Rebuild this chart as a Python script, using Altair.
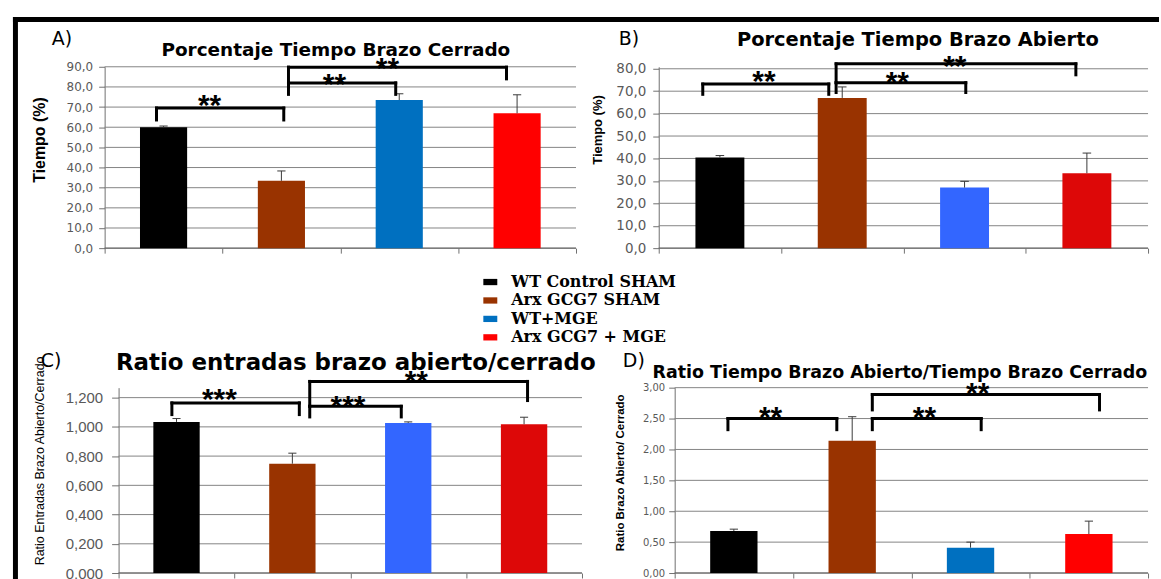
import altair as alt
import numpy as np
import pandas as pd

# ---------------- data ----------------
groups = ["WT Control SHAM", "Arx GCG7 SHAM", "WT+MGE", "Arx GCG7 + MGE"]

a_mean = [60.0, 33.4, 73.5, 66.9]
a_sem = [0.6, 4.9, 3.1, 9.2]
b_mean = [40.4, 67.0, 27.0, 33.4]
b_sem = [0.9, 4.9, 2.8, 9.0]
c_mean = [1.034, 0.748, 1.027, 1.018]
c_sem = [0.023, 0.072, 0.007, 0.048]
d_mean = [0.68, 2.14, 0.41, 0.63]
d_sem = [0.03, 0.39, 0.09, 0.21]

a_ticks = [0, 10, 20, 30, 40, 50, 60, 70, 80, 90]
b_ticks = [0, 10, 20, 30, 40, 50, 60, 70, 80]
c_ticks = [0, 0.2, 0.4, 0.6, 0.8, 1.0, 1.2]
d_ticks = [0, 0.5, 1.0, 1.5, 2.0, 2.5, 3.0]

titles = ["Porcentaje Tiempo Brazo Cerrado",
          "Porcentaje Tiempo Brazo Abierto",
          "Ratio entradas brazo abierto/cerrado",
          "Ratio Tiempo Brazo Abierto/Tiempo Brazo Cerrado"]
letters = ["A)", "B)", "C)", "D)"]
y_titles = ["Tiempo (%)", "Tiempo (%)",
            "Ratio Entradas Brazo Abierto/Cerrado",
            "Ratio Brazo Abierto/ Cerrado"]

# significance brackets (x in group slots, y in data units)
a_br_from = [0.44, 1.56, 1.56]
a_br_to = [1.52, 2.47, 3.41]
a_br_level = [69.5, 82.0, 89.8]
a_br_left = [63.6, 76.3, 80.0]
a_br_right = [63.6, 76.3, 84.0]
a_stars = ["**", "**", "**"]
a_star_x = [0.89, 1.95, 2.40]
a_star_y = [73.3, 84.0, 92.0]

b_br_from = [0.36, 1.45, 1.45]
b_br_to = [1.39, 2.51, 3.41]
b_br_level = [73.2, 73.8, 82.2]
b_br_left = [68.6, 69.4, 73.8]
b_br_right = [68.6, 69.4, 77.3]
b_stars = ["**", "**", "**"]
b_star_x = [0.86, 1.95, 2.42]
b_star_y = [76.8, 76.3, 83.6]

c_br_from = [0.46, 1.65, 1.65]
c_br_to = [1.56, 2.44, 3.53]
c_br_level = [1.164, 1.141, 1.311]
c_br_left = [1.084, 1.068, 1.141]
c_br_right = [1.084, 1.068, 1.180]
c_stars = ["***", "***", "**"]
c_star_x = [0.87, 1.98, 2.57]
c_star_y = [1.227, 1.180, 1.345]

d_br_from = [0.45, 1.67, 1.67]
d_br_to = [1.37, 2.59, 3.59]
d_br_level = [2.50, 2.50, 2.89]
d_br_left = [2.32, 2.32, 2.64]
d_br_right = [2.32, 2.32, 2.64]
d_stars = ["**", "**", "**"]
d_star_x = [0.81, 2.11, 2.56]
d_star_y = [2.61, 2.60, 2.99]

colors_ad = ["#000000", "#993300", "#0070C0", "#FF0000"]
colors_bc = ["#000000", "#993300", "#3366FF", "#DD0808"]

AXIS_GRAY = "#707070"
LABEL_GRAY = "#595959"


def panel(mean, sem, colors, ticks, dec, x_lo, y_hi, w, h, ax_off,
          lab_font, lab_size, lab_pad, tick_size,
          ytitle, yt_font, yt_size, yt_weight, yt_x, yt_y,
          title, t_font, t_size, t_weight, t_x, t_y,
          letter, le_x, le_y,
          br, legend=None, decor=None):
    df = pd.DataFrame({"group": groups, "mean": mean, "sem": sem})
    df["pos"] = np.arange(len(groups)) + 0.5
    df["left"] = df["pos"] - 0.2
    df["right"] = df["pos"] + 0.2
    df["top"] = df["mean"] + df["sem"]
    df["cl"] = df["pos"] - 0.035
    df["cr"] = df["pos"] + 0.035
    df["zero"] = 0.0

    gdf = pd.DataFrame({"v": ticks})
    gdf["g0"] = 0.0
    gdf["g1"] = 4.0

    bdf = pd.DataFrame({"x1": br[0], "x2": br[1], "y": br[2], "yl": br[3],
                        "yr": br[4], "label": br[5], "sx": br[6], "sy": br[7]})

    xs = alt.Scale(domain=[x_lo, 4], nice=False, zero=False)
    ys = alt.Scale(domain=[0, y_hi], nice=False, zero=True)
    label_expr = f"replace(format(datum.value, '.{dec}f'), '.', ',')"
    yaxis = alt.Axis(values=ticks, labelExpr=label_expr, grid=False,
                     domainColor=AXIS_GRAY, tickColor=AXIS_GRAY,
                     tickSize=tick_size, labelPadding=lab_pad,
                     labelFont=lab_font, labelFontSize=lab_size,
                     labelColor=LABEL_GRAY, offset=ax_off,
                     title=ytitle, titleFont=yt_font, titleFontSize=yt_size,
                     titleFontWeight=yt_weight, titleColor="black",
                     titleX=yt_x, titleY=yt_y, titleAngle=270,
                     titleBaseline="middle", titleAlign="center")
    xaxis = alt.Axis(values=[0, 1, 2, 3, 4], labels=False, domain=False,
                     grid=False, ticks=True, tickSize=5, tickColor=AXIS_GRAY,
                     title=None)

    def X(f):
        return alt.X(f, scale=xs, axis=xaxis)

    def Y(f):
        return alt.Y(f, scale=ys, axis=yaxis)

    grid = alt.Chart(gdf).mark_rule(color="#858585", strokeWidth=1).encode(
        x=X("g0:Q"), x2="g1:Q", y=Y("v:Q"))

    bars = alt.Chart(df).mark_rect().encode(
        x=X("left:Q"),
        x2="right:Q",
        y=Y("mean:Q"),
        y2="zero:Q",
        color=alt.Color("group:N", scale=alt.Scale(domain=groups, range=colors),
                        legend=legend),
    )
    base_line = alt.Chart(gdf.head(1)).mark_rule(color="#606060", strokeWidth=1).encode(
        x=X("g0:Q"), x2="g1:Q", y=Y("v:Q"))

    err = alt.Chart(df).mark_rule(color="#3a3a3a", strokeWidth=1).encode(
        x=X("pos:Q"), y=Y("mean:Q"), y2="top:Q")
    cap = alt.Chart(df).mark_rule(color="#3a3a3a", strokeWidth=1).encode(
        x=X("cl:Q"), x2="cr:Q", y=Y("top:Q"))

    hline = alt.Chart(bdf).mark_rule(color="black", strokeWidth=3, strokeCap="square").encode(
        x=X("x1:Q"), x2="x2:Q", y=Y("y:Q"))
    lleg = alt.Chart(bdf).mark_rule(color="black", strokeWidth=3, strokeCap="square").encode(
        x=X("x1:Q"), y=Y("y:Q"), y2="yl:Q")
    rleg = alt.Chart(bdf).mark_rule(color="black", strokeWidth=3, strokeCap="square").encode(
        x=X("x2:Q"), y=Y("y:Q"), y2="yr:Q")
    stars = alt.Chart(bdf).mark_text(font="Liberation Sans", fontSize=30,
                                     fontWeight="bold", color="black",
                                     baseline="alphabetic", dy=15).encode(
        x=X("sx:Q"), y=Y("sy:Q"), text="label:N")

    tdf = pd.DataFrame({"title": [title], "letter": [letter]})
    ttl = alt.Chart(tdf).mark_text(font=t_font, fontSize=t_size, fontWeight=t_weight,
                                   color="black", align="center",
                                   baseline="alphabetic").encode(
        x=alt.value(t_x), y=alt.value(t_y), text="title:N")
    let = alt.Chart(tdf).mark_text(font="DejaVu Sans", fontSize=19, color="black",
                                   align="left", baseline="alphabetic").encode(
        x=alt.value(le_x), y=alt.value(le_y), text="letter:N")

    layers = [grid, base_line, bars, err, cap, hline, lleg, rleg, stars, ttl, let]
    if decor is not None:
        layers += decor
    return alt.layer(*layers).properties(width=w, height=h)


# outer frame of the figure (top and left black border)
frame_df = pd.DataFrame({"k": [0]})
frame_top = alt.Chart(frame_df).mark_rule(color="black", strokeWidth=5, strokeCap="square").encode(
    x=alt.value(-89.5), x2=alt.value(1055.5), y=alt.value(-47.5))
frame_left = alt.Chart(frame_df).mark_rule(color="black", strokeWidth=5, strokeCap="square").encode(
    x=alt.value(-89.5), y=alt.value(-47.5), y2=alt.value(512.5))

legend_a = alt.Legend(orient="none", legendX=379, legendY=208, title=None,
                      symbolType="M-1,-0.45H1V0.45H-1Z", symbolSize=196,
                      symbolStrokeWidth=0, labelFont="DejaVu Serif",
                      labelFontWeight="bold", labelFontSize=16,
                      labelColor="black", labelOffset=13, rowPadding=2.5,
                      padding=0, labelLimit=400)

NARROW = "Liberation Sans Narrow, Liberation Sans"

A = panel(a_mean, a_sem, colors_ad, a_ticks, 1, 0, 90, 473, 182, 0,
          "DejaVu Sans", 12, 6, 6,
          y_titles[0], NARROW, 16, "bold", -65, 73,
          titles[0], "DejaVu Sans", 18.5, "bold", 232, -11,
          letters[0], -53, -22,
          (a_br_from, a_br_to, a_br_level, a_br_left, a_br_right, a_stars, a_star_x, a_star_y),
          legend=legend_a, decor=[frame_top, frame_left])

B = panel(b_mean, b_sem, colors_bc, b_ticks, 1, 0, 80 * 182 / 180, 491, 182, 0,
          "DejaVu Sans", 13.5, 7, 6,
          y_titles[1], NARROW, 13, "bold", -61, 63,
          titles[1], "DejaVu Sans", 19.5, "bold", 260, -21,
          letters[1], -40, -22,
          (b_br_from, b_br_to, b_br_level, b_br_left, b_br_right, b_stars, b_star_x, b_star_y))

C = panel(c_mean, c_sem, colors_bc, c_ticks, 3, -14 / 116.25, 1.2 * 186 / 176, 479, 186, -14,
          "Liberation Sans", 15, 9, 7,
          y_titles[2], NARROW, 12.5, "normal", -79, 73,
          titles[2], "DejaVu Sans", 23, "bold", 252, -18,
          letters[2], -64, -21,
          (c_br_from, c_br_to, c_br_level, c_br_left, c_br_right, c_stars, c_star_x, c_star_y))

D = panel(d_mean, d_sem, colors_ad, d_ticks, 2, -16 / 118.75, 3.0, 491, 186, -16,
          "DejaVu Sans", 10, 4, 6,
          y_titles[3], NARROW, 11.5, "bold", -54, 85,
          titles[3], "DejaVu Sans", 17.5, "bold", 242, -10,
          letters[3], -36, -21,
          (d_br_from, d_br_to, d_br_level, d_br_left, d_br_right, d_stars, d_star_x, d_star_y))

chart = alt.concat(A, B, C, D, columns=2, spacing={"row": 140, "column": 77},
                   bounds="flush").resolve_scale(
    x="independent", y="independent", color="independent"
).resolve_legend(color="independent").properties(
    padding={"left": 11, "top": 14, "right": 0, "bottom": 0},
    background="white",
).configure_view(stroke=None)

chart.save("out.html", embed_options={"renderer": "svg", "actions": False})
